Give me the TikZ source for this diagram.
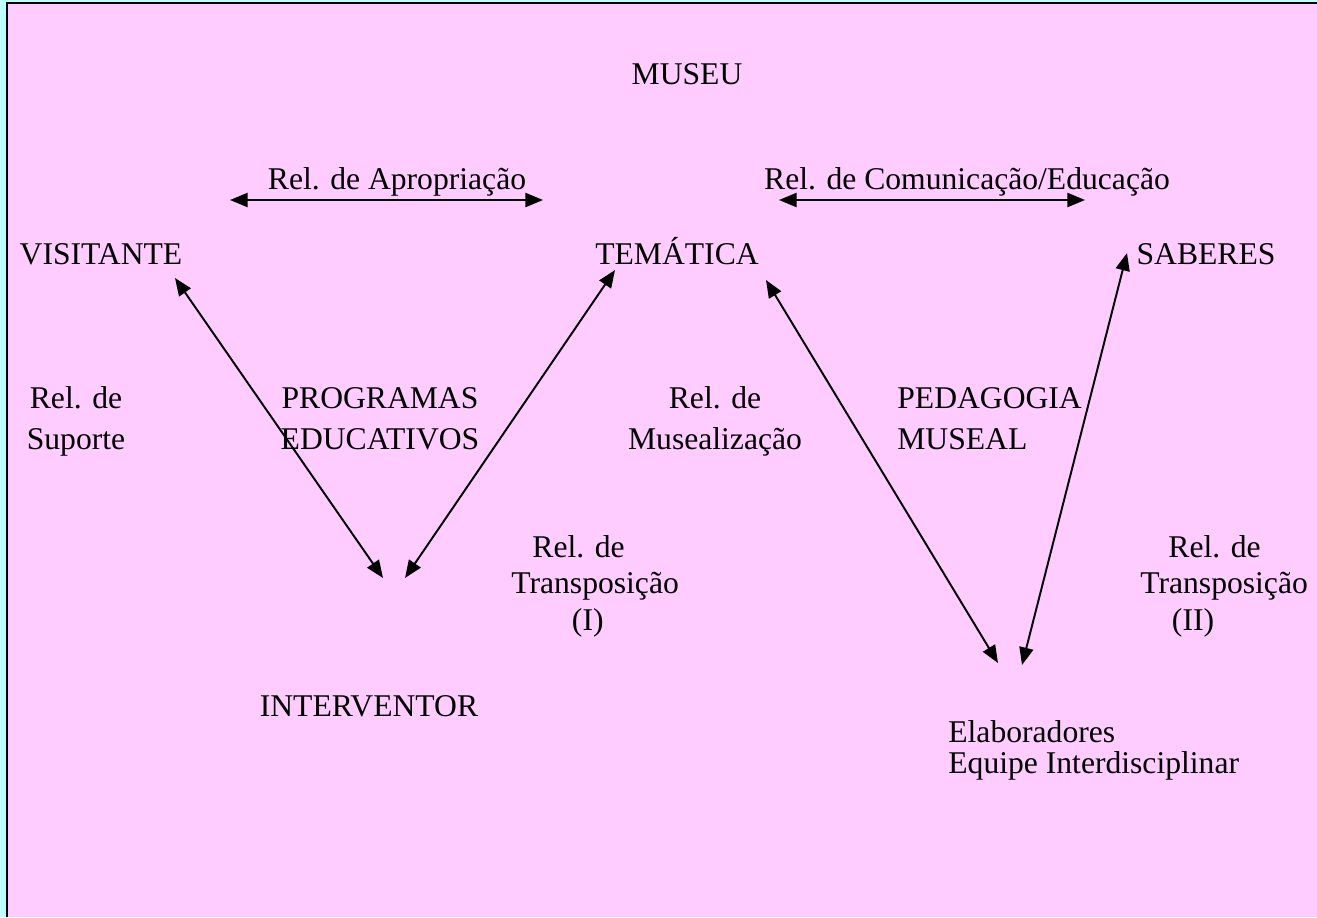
\documentclass[tikz,border=0pt]{standalone}
\usepackage{fontspec}
\setmainfont{Liberation Serif}
\usetikzlibrary{arrows.meta}
\definecolor{bgcyan}{HTML}{C0FFFF}
\definecolor{bgpink}{HTML}{FFCCFF}
\tikzset{
  lbl/.style={font=\fontsize{18}{22.8}\selectfont, inner sep=0pt, anchor=base},
  rel/.style={draw=black, line width=1.1pt, {Triangle[length=10pt,width=8pt]}-{Triangle[length=10pt,width=8pt]}}
}
\begin{document}
\begin{tikzpicture}[x=0.02cm,y=-0.02cm]
\useasboundingbox (0,0) rectangle (1317,917);
\fill[bgcyan] (0,0) rectangle (1317,917);
\fill[bgpink] (7,3) rectangle (1317,917);
\draw[line width=1.4pt] (7,917) -- (7,3) -- (1317,3);

\node[lbl] (museu) at (687,84) {MUSEU};
\node[lbl] (apro) at (397,189) {Rel. de Apropriação};
\node[lbl] (comu) at (967,189) {Rel. de Comunicação/Educação};
\node[lbl] (visit) at (101,264) {VISITANTE};
\node[lbl] (tema) at (677,264) {TEMÁTICA};
\node[lbl] (saber) at (1206,264) {SABERES};
\node[lbl,align=center] (sup) at (76,449) {Rel. de\\Suporte};
\node[lbl,align=center] (prog) at (380,449) {PROGRAMAS\\EDUCATIVOS};
\node[lbl,align=center] (muse) at (715,449) {Rel. de\\Musealização};
\node[lbl,align=left,anchor=base west] (peda) at (897,449) {PEDAGOGIA\\MUSEAL};
\node[lbl,align=left,anchor=base west,font=\fontsize{18}{20.5}\selectfont] (trans1) at (511,630) {\hspace*{12pt}Rel. de\\Transposição\\\hspace*{34.5pt}(I)};
\node[lbl,align=left,anchor=base west,font=\fontsize{18}{20.5}\selectfont] (trans2) at (1140,630) {\hspace*{16pt}Rel. de\\Transposição\\\hspace*{18pt}(II)};
\node[lbl] (interv) at (369,716) {INTERVENTOR};
\node[lbl,align=left,anchor=base west,font=\fontsize{18}{17.6}\selectfont] (elab) at (948,773) {Elaboradores\\Equipe Interdisciplinar};

\coordinate (a1) at (230,200);
\coordinate (a2) at (543,200);
\coordinate (c1) at (779,200);
\coordinate (c2) at (1085,200);
\coordinate (v1) at (175,278);
\coordinate (v2) at (383,578);
\coordinate (t1) at (615,270);
\coordinate (t2) at (405,578);
\coordinate (m1) at (766,280);
\coordinate (m2) at (998,663);
\coordinate (s1) at (1127,253);
\coordinate (s2) at (1022,665);

\draw[rel] (a1) -- (a2);
\draw[rel] (c1) -- (c2);
\draw[rel] (v1) -- (v2);
\draw[rel] (t1) -- (t2);
\draw[rel] (m1) -- (m2);
\draw[rel] (s1) -- (s2);
\end{tikzpicture}
\end{document}
